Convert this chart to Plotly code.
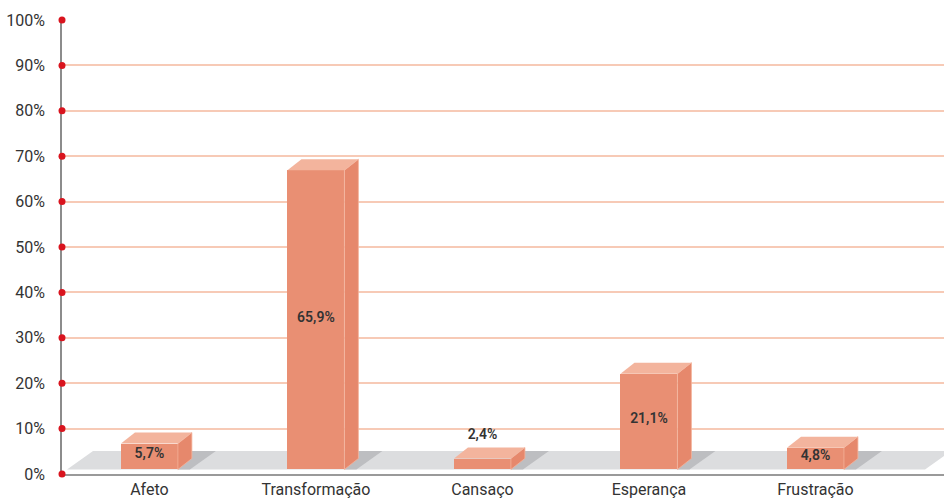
import plotly.graph_objects as go

# ---- data ----
categories = ["Afeto", "Transformação", "Cansaço", "Esperança", "Frustração"]
values = [5.7, 65.9, 2.4, 21.1, 4.8]
value_labels = ["5,7%", "65,9%", "2,4%", "21,1%", "4,8%"]
y_ticks = list(range(0, 101, 10))
y_tick_labels = [f"{v}%" for v in y_ticks]

# ---- styling / geometry ----
PX_X = 166.5          # pixels per category step
PX_Y = 4.54           # pixels per percentage point
X_RANGE = [-0.525, 4.772]
BASE = 1.0            # floor front level (in %)
FLOOR_BACK = 5.07     # floor back level (in %)
BAR_W = 0.342
DX = 14 / PX_X        # 3D depth offset
DY = 11 / PX_Y

FRONT = "#e98f73"
TOP = "#f3b49d"
SIDE = "#e6886c"
EDGE = "#f4b29b"
FLOOR = "#dcdddf"
SHADOW = "#bdbec1"
GRID = "#f7cab6"
TEXT = "#333333"

xs = list(range(len(categories)))

fig = go.Figure()

# floor & shadows as shapes between grid and traces
shapes = []
fl_front_l = X_RANGE[0] + 5 / PX_X
fl_back_l = fl_front_l + 26 / PX_X
fl_front_r = 4.658
fl_back_r = fl_front_r + 26 / PX_X
shapes.append(dict(
    type="path", xref="x", yref="y", layer="between",
    path=f"M {fl_front_l},{BASE} L {fl_back_l},{FLOOR_BACK} L {fl_back_r},{FLOOR_BACK} L {fl_front_r},{BASE} Z",
    fillcolor=FLOOR, line=dict(width=0)))
for x in xs:
    xr = x + BAR_W / 2
    shapes.append(dict(
        type="path", xref="x", yref="y", layer="between",
        path=(f"M {xr},{BASE} L {xr + 12 / PX_X},{BASE} "
              f"L {xr + 38 / PX_X},{FLOOR_BACK} L {xr + DX},{FLOOR_BACK} Z"),
        fillcolor=SHADOW, line=dict(width=0)))

# front faces
fig.add_trace(go.Bar(
    x=xs, y=values, base=[BASE] * len(values), width=BAR_W,
    marker=dict(color=FRONT, line=dict(width=0)),
    hoverinfo="skip", showlegend=False))

# side and top faces
for x, v in zip(xs, values):
    xl = x - BAR_W / 2
    xr = x + BAR_W / 2
    top = BASE + v
    fig.add_trace(go.Scatter(
        x=[xr, xr, xr + DX, xr + DX, xr],
        y=[BASE, top, top + DY, BASE + DY, BASE],
        fill="toself", fillcolor=SIDE, mode="lines",
        line=dict(color=EDGE, width=0.8),
        hoverinfo="skip", showlegend=False))
    fig.add_trace(go.Scatter(
        x=[xl, xl + DX, xr + DX, xr, xl],
        y=[top, top + DY, top + DY, top, top],
        fill="toself", fillcolor=TOP, mode="lines",
        line=dict(width=0),
        hoverinfo="skip", showlegend=False))

# value labels
label_y = []
for v in values:
    if v < 3:
        label_y.append(BASE + v + DY + 2.6)
    else:
        label_y.append(BASE + v / 2 + 0.4)
fig.add_trace(go.Scatter(
    x=xs, y=label_y, text=value_labels, mode="text",
    textposition="middle center",
    textfont=dict(family="Roboto", size=14, color=TEXT, weight=600),
    hoverinfo="skip", showlegend=False, cliponaxis=False))

# red dots on y axis
fig.add_trace(go.Scatter(
    x=[X_RANGE[0]] * len(y_ticks), y=y_ticks, mode="markers",
    marker=dict(color="#d9141e", size=7),
    cliponaxis=False, hoverinfo="skip", showlegend=False))

fig.update_layout(
    width=944, height=499,
    margin=dict(l=62, r=0, t=20, b=25),
    paper_bgcolor="white", plot_bgcolor="white",
    shapes=shapes,
    font=dict(family="Roboto", color=TEXT),
    xaxis=dict(
        range=X_RANGE, tickvals=xs, ticktext=categories,
        showgrid=False, zeroline=False, showline=True,
        linecolor="#9a9a9a", linewidth=1.5, ticks="",
        tickfont=dict(size=16, color=TEXT), layer="below traces",
        ticklabelstandoff=0, automargin=False),
    yaxis=dict(
        range=[0, 100], tickvals=y_ticks, ticktext=y_tick_labels,
        showgrid=True, gridcolor=GRID, gridwidth=1.5, zeroline=False,
        showline=True, linecolor="#8c8c8c", linewidth=1.5, ticks="",
        tickfont=dict(size=16, color=TEXT), layer="below traces",
        ticklabelstandoff=12, automargin=False),
    bargap=0,
)

fig.write_html("out.html")
